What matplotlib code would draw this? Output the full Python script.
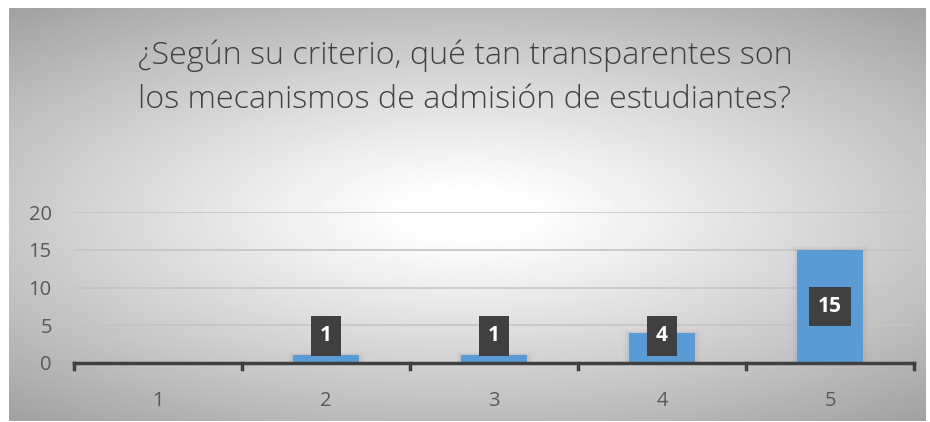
import numpy as np
import matplotlib.pyplot as plt

categories = ['1', '2', '3', '4', '5']
values = [0, 1, 1, 4, 15]
title_lines = ['¿Según su criterio, qué tan transparentes son',
               'los mecanismos de admisión de estudiantes?']

fig = plt.figure(figsize=(9.3, 4.22), dpi=100)
fig.patch.set_facecolor('white')

# radial gradient background like the Excel chart area
bg = fig.add_axes([9 / 930, 1 - 421 / 422, 916 / 930, 413 / 422])
yy, xx = np.mgrid[-1:1:300j, -1:1:600j]
r = np.sqrt(xx ** 2 + (yy / 0.85) ** 2)
shade = 1 - 0.25 * np.clip(r - 0.12, 0, None) ** 1.1
bg.imshow(shade, cmap='gray', vmin=0, vmax=1, aspect='auto', extent=[0, 1, 0, 1])
bg.axis('off')

for ypix, line in zip([56, 100], title_lines):
    fig.text(0.5, 1 - ypix / 422, line, ha='center', va='center',
             fontsize=23.2, color='#404040', family='Open Sans', fontweight='light')

ax = fig.add_axes([74 / 930, 1 - 363 / 422, 840 / 930, 151 / 422])
ax.set_facecolor('none')
x = np.arange(len(categories))
# soft shadow
for k, a in enumerate([0.10, 0.07, 0.04]):
    ax.bar(x, np.array(values) + 0.15 * (k + 1), width=0.39 + 0.025 * (k + 1),
           color='#909090', alpha=a, zorder=2, lw=0)
ax.bar(x, values, width=0.39, color='#5b9bd5', zorder=3)

for xi, v in zip(x, values):
    if v == 0:
        continue
    ax.text(xi, max(v / 2, 3.6), str(v), ha='center', va='center', color='white',
            fontsize=15, fontweight='bold', family='Open Sans', zorder=5,
            bbox=dict(boxstyle='square,pad=0.45', fc='#404040', ec='none'))

ax.set_xlim(-0.5, len(categories) - 0.5)
ax.set_ylim(0, 20)
ax.set_yticks([0, 5, 10, 15, 20])
ax.set_xticks(x)
ax.set_xticklabels(categories)
ax.yaxis.grid(True, color='#c4c4c4', lw=1.2, zorder=0)
ax.set_axisbelow(True)
for s in ['top', 'right', 'left']:
    ax.spines[s].set_visible(False)
ax.spines['bottom'].set_color('#404040')
ax.spines['bottom'].set_linewidth(2.5)
ax.spines['bottom'].set_zorder(4)
ax.tick_params(axis='y', length=0, pad=16, labelsize=14.5, labelcolor='#595959')
ax.tick_params(axis='x', length=0, pad=20, labelsize=14.5, labelcolor='#595959')
for b in np.arange(len(categories) + 1) - 0.5:
    ax.plot([b, b], [0, -0.8], color='#404040', lw=2.5, clip_on=False, zorder=4)
for lab in ax.get_xticklabels() + ax.get_yticklabels():
    lab.set_family('Open Sans')

fig.savefig('out.png', dpi=100)
